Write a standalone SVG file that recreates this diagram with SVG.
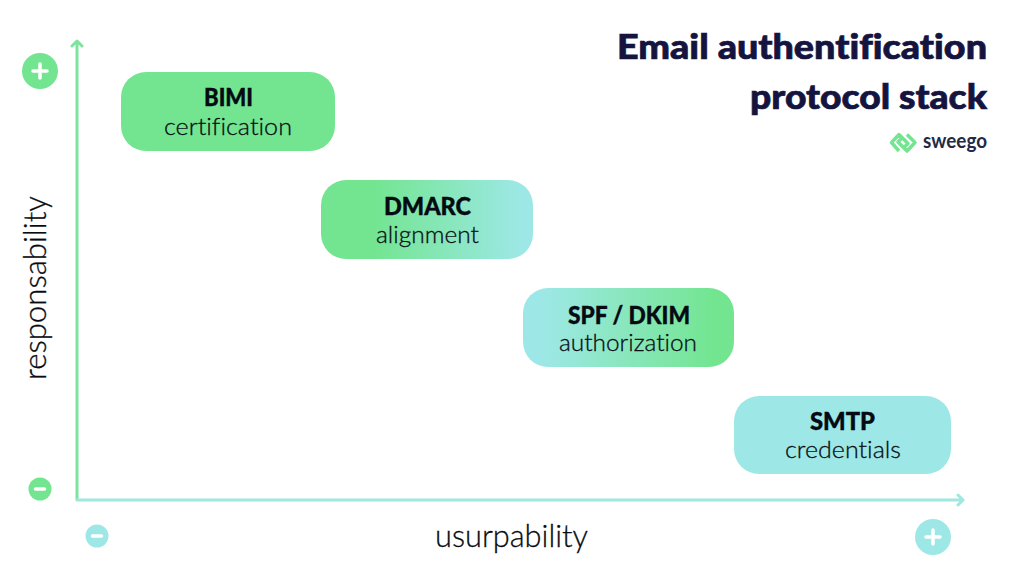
<svg xmlns="http://www.w3.org/2000/svg" width="1024" height="576" viewBox="0 0 1024 576">
  <style>
    text { font-family: "Lato", "Noto Sans", "Liberation Sans", sans-serif; text-anchor: middle; font-variant-ligatures: none; }
    .name { font-weight: 900; font-size: 24px; fill: #060a12; stroke: #060a12; stroke-width: 0.4; }
    .role { font-weight: 300; font-size: 24px; fill: #0a0e14; stroke: #0a0e14; stroke-width: 0.3; }
    .axis-label { font-weight: 300; font-size: 31px; fill: #080b10; stroke: #080b10; stroke-width: 0.3; }
    .title { font-weight: 900; font-size: 34px; fill: #14143f; stroke: #14143f; stroke-width: 0.7; text-anchor: end; }
    .axis { fill: none; stroke-width: 3; stroke-linecap: round; stroke-linejoin: round; }
    .sign { stroke: #fff; stroke-width: 3.5; stroke-linecap: round; fill: none; }
    .green { fill: #73e591; }
    .teal { fill: #9de8e6; }
  </style>
  <defs>
    <linearGradient id="greenToTeal" x1="0" y1="0" x2="1" y2="0">
      <stop offset="0.25" stop-color="#73e591"/>
      <stop offset="0.95" stop-color="#9de8e6"/>
    </linearGradient>
    <linearGradient id="tealToGreen" x1="0" y1="0" x2="1" y2="0">
      <stop offset="0.1" stop-color="#9de8e6"/>
      <stop offset="0.9" stop-color="#73e591"/>
    </linearGradient>
  </defs>
  <rect width="1024" height="576" fill="#fff"/>

  <g id="connectors">
    <path class="axis" stroke="#7fe3a0" d="M77 499V41M72 46L77 41L82 46"/>
    <path class="axis" stroke="#9de8e0" d="M77 500H963M958 495L963 500L958 505"/>
  </g>

  <g id="node-bimi">
    <rect class="green" x="121" y="72" width="214" height="79" rx="25"/>
    <text class="name" x="228.500" y="106" textLength="49" lengthAdjust="spacingAndGlyphs">BIMI</text>
    <text class="role" x="228" y="135" textLength="128" lengthAdjust="spacingAndGlyphs">certification</text>
  </g>
  <g id="node-dmarc">
    <rect fill="url(#greenToTeal)" x="321" y="180" width="212" height="79" rx="25"/>
    <text class="name" x="427.500" y="215" textLength="87" lengthAdjust="spacingAndGlyphs">DMARC</text>
    <text class="role" x="427.500" y="243" textLength="103" lengthAdjust="spacingAndGlyphs">alignment</text>
  </g>
  <g id="node-spf-dkim">
    <rect fill="url(#tealToGreen)" x="523" y="288" width="211" height="79" rx="25"/>
    <text class="name" x="629" y="324" textLength="122" lengthAdjust="spacingAndGlyphs">SPF / DKIM</text>
    <text class="role" x="628" y="351" textLength="138" lengthAdjust="spacingAndGlyphs">authorization</text>
  </g>
  <g id="node-smtp">
    <rect class="teal" x="734" y="396" width="217" height="78" rx="25"/>
    <text class="name" x="842.500" y="430" textLength="65" lengthAdjust="spacingAndGlyphs">SMTP</text>
    <text class="role" x="843" y="458" textLength="116" lengthAdjust="spacingAndGlyphs">credentials</text>
  </g>

  <g id="scale-y-plus">
    <circle class="green" cx="40" cy="71" r="18"/>
    <path class="sign" d="M33 71H47M40 64V78"/>
  </g>
  <g id="scale-y-minus">
    <circle class="green" cx="40" cy="489" r="11.5"/>
    <path class="sign" d="M35.500 489H44.500"/>
  </g>
  <g id="scale-x-minus">
    <circle class="teal" cx="97" cy="536" r="11.500"/>
    <path class="sign" d="M92.500 536H101.500"/>
  </g>
  <g id="scale-x-plus">
    <circle class="teal" cx="933" cy="537" r="18"/>
    <path class="sign" d="M926 537H940M933 530V544"/>
  </g>

  <g id="label-y">
    <text class="axis-label" transform="translate(46 288) rotate(-90)" textLength="184" lengthAdjust="spacingAndGlyphs">responsability</text>
  </g>
  <g id="label-x">
    <text class="axis-label" x="511.500" y="547" textLength="153" lengthAdjust="spacingAndGlyphs">usurpability</text>
  </g>

  <g id="title">
    <text class="title" x="987" y="59" textLength="370" lengthAdjust="spacingAndGlyphs">Email authentification</text>
    <text class="title" x="987" y="109" textLength="237" lengthAdjust="spacingAndGlyphs">protocol stack</text>
  </g>

  <g id="logo">
    <path fill="none" stroke="#73e591" stroke-width="3.500" stroke-linejoin="round" d="M899 151L891.500 142.500L899 134.500L908 143.500L903.500 148M907 134.500L915 142.500L907 151L898 142L902.500 137.500"/>
    <text x="987" y="148" style="text-anchor:end;font-weight:700;font-size:20px;fill:#232a44" textLength="64" lengthAdjust="spacingAndGlyphs">sweego</text>
  </g>
</svg>
